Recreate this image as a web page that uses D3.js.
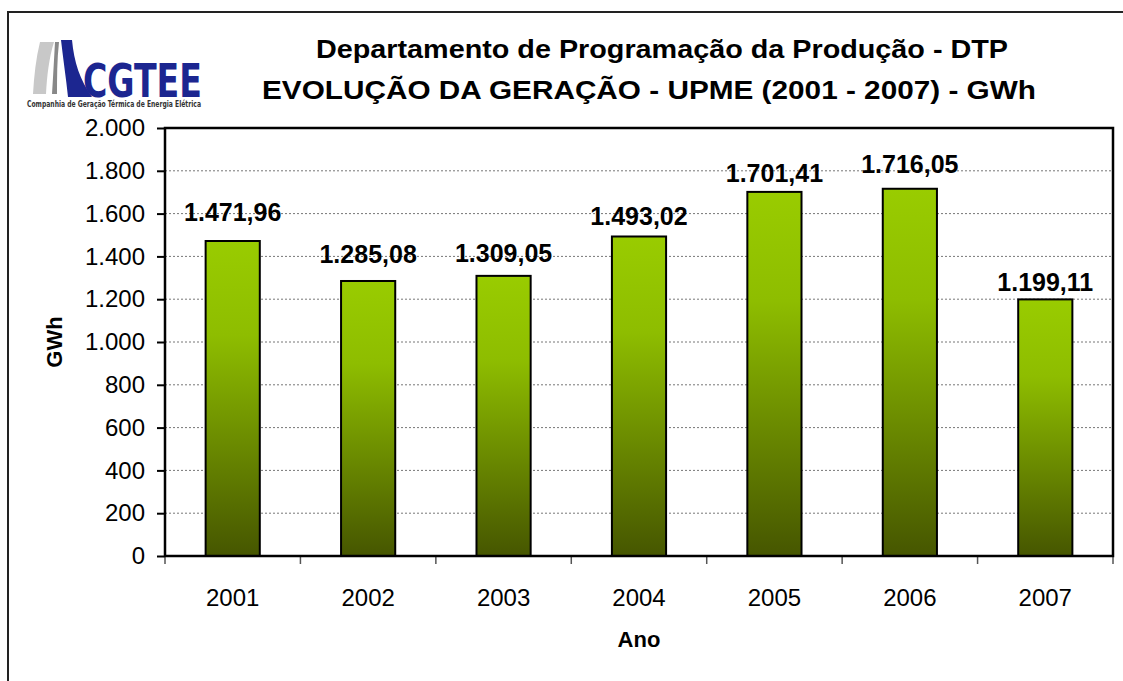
<!DOCTYPE html>
<html><head><meta charset="utf-8">
<script src="https://cdn.jsdelivr.net/npm/d3@7"></script>
<style>html,body{margin:0;padding:0;background:#fff;}svg{display:block;}</style>
</head><body>
<script>
const years = ["2001","2002","2003","2004","2005","2006","2007"];
const generation = [1471.96, 1285.08, 1309.05, 1493.02, 1701.41, 1716.05, 1199.11];
const yTicks = [0,200,400,600,800,1000,1200,1400,1600,1800,2000];
const titleLines = ["Departamento de Programação da Produção - DTP", "EVOLUÇÃO DA GERAÇÃO - UPME (2001 - 2007) - GWh"];
const xTitle = "Ano", yTitle = "GWh";

// layout (not data): per-label vertical nudges as placed in the source
const labelGap = [20, 18, 14, 11, 10, 16, 8];
const titleLayout = [{cx:662, y:58, len:692}, {cx:649, y:99, len:774}];

const W = 1123, H = 681;
const m = {left:165, top:128, right:1113, bottom:556};
const svg = d3.select("body").append("svg").attr("width",W).attr("height",H);
const font = "Liberation Sans, Arial, sans-serif";

// outer frame
svg.append("rect").attr("x",8).attr("y",12).attr("width",1130).attr("height",700)
  .attr("fill","none").attr("stroke","#222").attr("stroke-width",2);

const defs = svg.append("defs");
const g = defs.append("linearGradient").attr("id","barg").attr("x1",0).attr("y1",0).attr("x2",0).attr("y2",1);
g.append("stop").attr("offset","0%").attr("stop-color","#99cc00");
g.append("stop").attr("offset","30%").attr("stop-color","#8ebd00");
g.append("stop").attr("offset","100%").attr("stop-color","#465600");

const x = d3.scaleBand().domain(years).range([m.left, m.right]).paddingInner(0.6).paddingOuter(0.3);
const y = d3.scaleLinear().domain([0,2000]).range([m.bottom, m.top]);

// gridlines
svg.append("g").selectAll("line").data(yTicks.filter(d=>d>0 && d<2000)).join("line")
  .attr("x1",m.left).attr("x2",m.right).attr("y1",d=>y(d)).attr("y2",d=>y(d))
  .attr("stroke","#777").attr("stroke-width",1).attr("stroke-dasharray","2,2");

// bars
svg.append("g").selectAll("rect").data(generation).join("rect")
  .attr("x",(d,i)=>x(years[i])).attr("width",x.bandwidth())
  .attr("y",d=>y(d)).attr("height",d=>y(0)-y(d))
  .attr("fill","url(#barg)").attr("stroke","#000").attr("stroke-width",2);

// value labels
const fmt = d3.formatLocale({decimal:",", thousands:".", grouping:[3], currency:["R$",""]});
svg.append("g").selectAll("text").data(generation).join("text")
  .attr("x",(d,i)=>x(years[i])+x.bandwidth()/2).attr("y",(d,i)=>y(d)-labelGap[i])
  .attr("text-anchor","middle").attr("font-family",font).attr("font-weight","bold")
  .attr("font-size",25).attr("fill","#000").text(d=>fmt.format(",.2f")(d));

// y axis
const ya = svg.append("g").attr("transform",`translate(${m.left},0)`)
  .call(d3.axisLeft(y).tickValues(yTicks).tickFormat(fmt.format(",d")).tickSize(8).tickPadding(12));
ya.select(".domain").remove();
ya.selectAll(".tick line").attr("stroke","#000").attr("stroke-width",2);
ya.selectAll(".tick text").attr("font-family",font).attr("font-size",24).attr("fill","#000");

// x axis ticks at band boundaries
const bounds = d3.range(years.length+1).map(i=>m.left + i*(m.right-m.left)/years.length);
svg.append("g").selectAll("line").data(bounds).join("line")
  .attr("x1",d=>d).attr("x2",d=>d).attr("y1",m.bottom).attr("y2",m.bottom+8)
  .attr("stroke","#555").attr("stroke-width",1.5);
svg.append("g").selectAll("text").data(years).join("text")
  .attr("x",d=>x(d)+x.bandwidth()/2).attr("y",m.bottom+50)
  .attr("text-anchor","middle").attr("font-family",font).attr("font-size",24).text(d=>d);

// plot frame
svg.append("rect").attr("x",m.left).attr("y",m.top).attr("width",m.right-m.left).attr("height",m.bottom-m.top)
  .attr("fill","none").attr("stroke","#000").attr("stroke-width",2.5);

// axis titles
svg.append("text").attr("x",(m.left+m.right)/2).attr("y",647).attr("text-anchor","middle")
  .attr("font-family",font).attr("font-weight","bold").attr("font-size",22).text(xTitle);
svg.append("text").attr("transform",`translate(62,${(m.top+m.bottom)/2}) rotate(-90)`).attr("text-anchor","middle")
  .attr("font-family",font).attr("font-weight","bold").attr("font-size",22).text(yTitle);

// titles
svg.append("g").selectAll("text").data(titleLines).join("text")
  .attr("x",(d,i)=>titleLayout[i].cx).attr("y",(d,i)=>titleLayout[i].y).attr("text-anchor","middle")
  .attr("textLength",(d,i)=>titleLayout[i].len).attr("lengthAdjust","spacingAndGlyphs")
  .attr("font-family",font).attr("font-weight","bold").attr("font-size",26).text(d=>d);

// logo
const logo = svg.append("g");
logo.append("path").attr("d","M40,42 L54,42 C49,58 47,76 46,94 L33,94 C34,76 36,58 40,42 Z").attr("fill","#c8c8c8");
logo.append("path").attr("d","M55,42 L59,42 C57,60 57,78 57,94 L52,94 C53,78 54,60 55,42 Z").attr("fill","#888");
logo.append("path").attr("d","M61,40 L72,40 C74,62 80,80 92,97 L68,97 C66,78 63,58 61,40 Z").attr("fill","#1c2690");
logo.append("text").attr("x",83).attr("y",97).attr("font-family","Liberation Sans Narrow, DejaVu Sans Condensed, sans-serif")
  .attr("font-weight","bold").attr("font-size",47).attr("fill","#1c2690")
  .attr("textLength",119).attr("lengthAdjust","spacingAndGlyphs").text("CGTEE");
logo.append("text").attr("x",27).attr("y",107).attr("font-family","Liberation Sans Narrow, DejaVu Sans Condensed, sans-serif")
  .attr("font-weight","bold").attr("font-size",8).attr("fill","#333")
  .attr("textLength",174).attr("lengthAdjust","spacingAndGlyphs").text("Companhia de Geração Térmica de Energia Elétrica");
</script>
</body></html>
